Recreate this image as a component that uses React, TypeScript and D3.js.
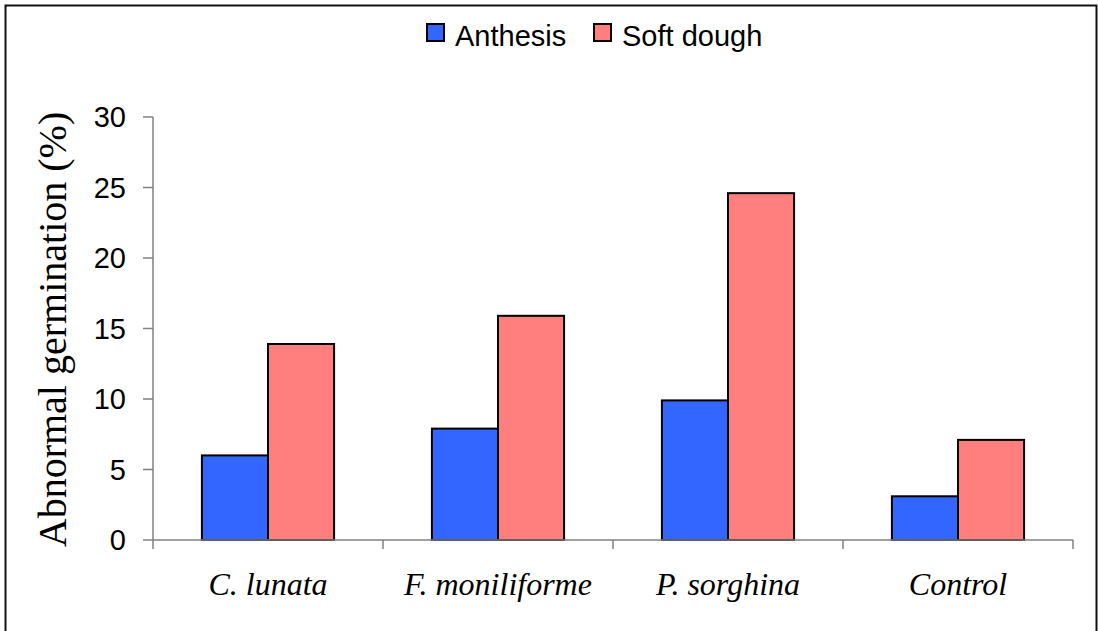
import React from "react";
import * as d3 from "d3";

const categories = ["C. lunata", "F. moniliforme", "P. sorghina", "Control"];
const anthesis = [6.0, 7.9, 9.9, 3.1];
const softDough = [13.9, 15.9, 24.6, 7.1];
const yTicks = [0, 5, 10, 15, 20, 25, 30];
const seriesNames = ["Anthesis", "Soft dough"];
const seriesColors = ["#3366FF", "#FF7F7F"];

const W = 1098;
const H = 631;
const plot = { left: 153, right: 1073, top: 117, bottom: 540 };

export default function App() {
  const x = d3.scaleBand<string>().domain(categories).range([plot.left, plot.right]).paddingInner(0).paddingOuter(0);
  const y = d3.scaleLinear().domain([0, 30]).range([plot.bottom, plot.top]);
  const inner = d3.scaleBand<number>().domain([0, 1]).range([0, x.bandwidth()]).paddingInner(0).paddingOuter(0.74);
  const series = [anthesis, softDough];
  const boundaries = categories.map((c) => x(c) as number).concat([plot.right]);

  return (
    <svg width={W} height={H} style={{ position: "absolute", left: 0, top: 0, background: "#fff" }}>
      <rect x={5.5} y={5.5} width={1091} height={700} fill="#fff" stroke="#111" strokeWidth={2} />
      {/* Legend */}
      <g fontFamily="'Liberation Sans', Arial, sans-serif" fontSize={29}>
        <rect x={427} y={24} width={17} height={17} fill={seriesColors[0]} stroke="#000" strokeWidth={2} />
        <text x={455} y={46}>{seriesNames[0]}</text>
        <rect x={594} y={24} width={17} height={17} fill={seriesColors[1]} stroke="#000" strokeWidth={2} />
        <text x={622} y={46}>{seriesNames[1]}</text>
      </g>
      {/* Bars */}
      {series.map((vals, si) =>
        categories.map((c, ci) => {
          const bx = (x(c) as number) + (inner(si) as number);
          const by = y(vals[ci]);
          return (
            <rect
              key={`${si}-${ci}`}
              x={bx}
              y={by}
              width={inner.bandwidth()}
              height={plot.bottom - by}
              fill={seriesColors[si]}
              stroke="#000"
              strokeWidth={2}
            />
          );
        })
      )}
      {/* Y axis */}
      <line x1={plot.left} x2={plot.left} y1={plot.top} y2={plot.bottom} stroke="#808080" strokeWidth={1.5} />
      {yTicks.map((t) => (
        <g key={t}>
          <line x1={plot.left - 10} x2={plot.left} y1={y(t)} y2={y(t)} stroke="#808080" strokeWidth={1.5} />
          <text
            x={126}
            y={y(t)}
            dy="0.36em"
            textAnchor="end"
            fontFamily="'Liberation Sans', Arial, sans-serif"
            fontSize={29}
          >
            {t}
          </text>
        </g>
      ))}
      {/* X axis */}
      <line x1={plot.left} x2={plot.right} y1={plot.bottom} y2={plot.bottom} stroke="#808080" strokeWidth={1.5} />
      {boundaries.map((bx, i) => (
        <line key={i} x1={bx} x2={bx} y1={plot.bottom} y2={plot.bottom + 9} stroke="#808080" strokeWidth={1.5} />
      ))}
      {categories.map((c) => (
        <text
          key={c}
          x={(x(c) as number) + x.bandwidth() / 2}
          y={595}
          textAnchor="middle"
          fontFamily="'Liberation Serif', 'Times New Roman', serif"
          fontStyle="italic"
          fontSize={32}
        >
          {c}
        </text>
      ))}
      {/* Y title */}
      <text
        transform={`translate(66, ${(plot.top + plot.bottom) / 2 + 1}) rotate(-90)`}
        textAnchor="middle"
        fontFamily="'Liberation Serif', 'Times New Roman', serif"
        fontSize={40}
      >
        Abnormal germination (%)
      </text>
    </svg>
  );
}
